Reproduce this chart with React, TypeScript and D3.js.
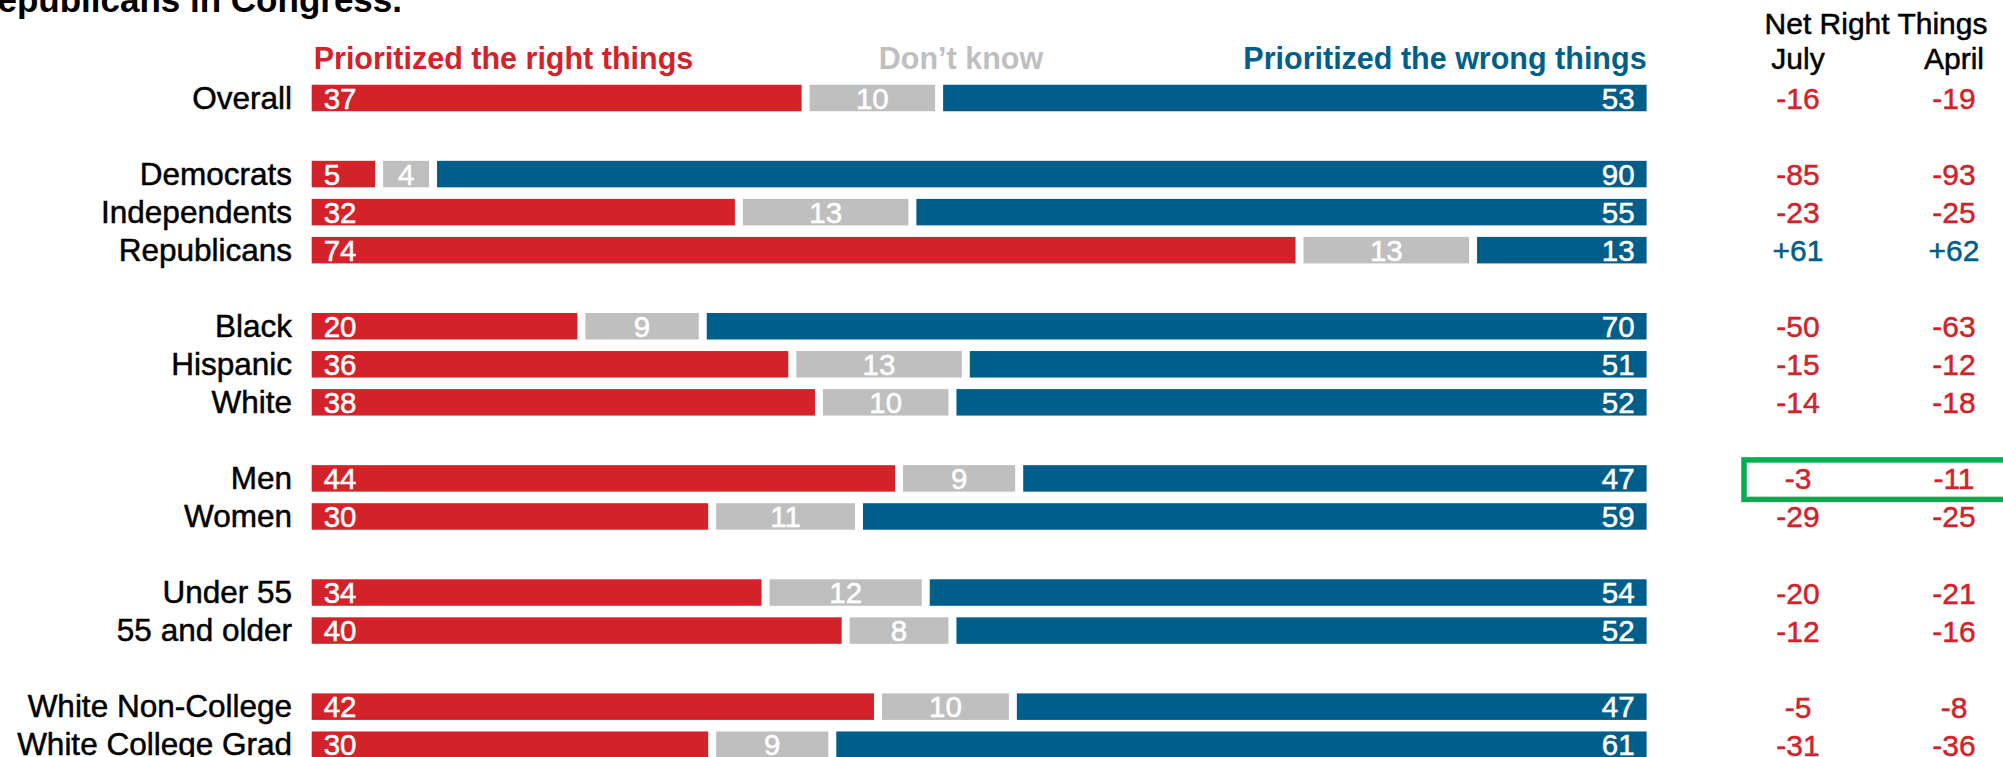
import React from "react";
import * as d3 from "d3";

const categories = ["Overall", "Democrats", "Independents", "Republicans", "Black", "Hispanic", "White", "Men", "Women", "Under 55", "55 and older", "White Non-College", "White College Grad"];
const groupIndex = [0, 1, 1, 1, 2, 2, 2, 3, 3, 4, 4, 5, 5];
const rightThings = [37, 5, 32, 74, 20, 36, 38, 44, 30, 34, 40, 42, 30];
const dontKnow = [10, 4, 13, 13, 9, 13, 10, 9, 11, 12, 8, 10, 9];
const wrongThings = [53, 90, 55, 13, 70, 51, 52, 47, 59, 54, 52, 47, 61];
const netJuly = [-16, -85, -23, 61, -50, -15, -14, -3, -29, -20, -12, -5, -31];
const netApril = [-19, -93, -25, 62, -63, -12, -18, -11, -25, -21, -16, -8, -36];
const seriesNames = ["Prioritized the right things", "Don\u2019t know", "Prioritized the wrong things"];
const highlightRow = "Men";

const W = 2003;
const H = 757;
const RED = "#D3222A";
const GRAY = "#BFBFBF";
const BLUE = "#005E8A";
const GREEN = "#00B050";
const FONT = "'Liberation Sans', Arial, sans-serif";

const barLeft = 311.7;
const barRight = 1646.6;
const gap = 8;
const barH = 26.5;

export default function App() {
  const slots = categories.map((_, i) => i + groupIndex[i]);
  const y = d3.scaleLinear().domain([0, 17]).range([98, 744.7]);
  const julyX = 1798;
  const aprilX = 1954;
  const fmt = (v: number) => (v > 0 ? "+" + v : String(v));

  return (
    <svg width={W} height={H} style={{ position: "absolute", left: 0, top: 0, background: "#fff" }} fontFamily={FONT}>
      <text x={402} y={12} textAnchor="end" fontSize={35} fontWeight="bold" fill="#000">Republicans in Congress.</text>

      <text x={barLeft + 2} y={69} fontSize={30.5} fontWeight="bold" fill={RED}>{seriesNames[0]}</text>
      <text x={961} y={69} textAnchor="middle" fontSize={30.5} fontWeight="bold" fill={GRAY}>{seriesNames[1]}</text>
      <text x={barRight} y={69} textAnchor="end" fontSize={30.5} fontWeight="bold" fill={BLUE}>{seriesNames[2]}</text>

      <g stroke="#000" strokeWidth={0.5}>
        <text x={1876} y={34} textAnchor="middle" fontSize={30} fill="#000">Net Right Things</text>
        <text x={julyX} y={69} textAnchor="middle" fontSize={30} fill="#000">July</text>
        <text x={aprilX} y={69} textAnchor="middle" fontSize={30} fill="#000">April</text>
      </g>

      {categories.map((cat, i) => {
        const cy = y(slots[i]);
        const total = rightThings[i] + dontKnow[i] + wrongThings[i];
        const x = d3.scaleLinear().domain([0, total]).range([barLeft, barRight]);
        const r0 = x(0), r1 = x(rightThings[i]) - gap / 2;
        const g0 = x(rightThings[i]) + gap / 2, g1 = x(rightThings[i] + dontKnow[i]) - gap / 2;
        const b0 = x(rightThings[i] + dontKnow[i]) + gap / 2, b1 = x(total);
        const ty = cy + 10.5;
        const cJ = netJuly[i] > 0 ? BLUE : RED;
        const cA = netApril[i] > 0 ? BLUE : RED;
        return (
          <g key={cat}>
            <text x={292} y={cy + 10.5} textAnchor="end" fontSize={31.5} fill="#000" stroke="#000" strokeWidth={0.5}>{cat}</text>
            <rect x={r0} y={cy - barH / 2} width={r1 - r0} height={barH} fill={RED} />
            <rect x={g0} y={cy - barH / 2} width={g1 - g0} height={barH} fill={GRAY} />
            <rect x={b0} y={cy - barH / 2} width={b1 - b0} height={barH} fill={BLUE} />
            <g fontSize={29.5} fill="#fff" stroke="#fff" strokeWidth={0.5}>
              <text x={r0 + 12} y={ty}>{rightThings[i]}</text>
              <text x={(g0 + g1) / 2} y={ty} textAnchor="middle">{dontKnow[i]}</text>
              <text x={b1 - 12} y={ty} textAnchor="end">{wrongThings[i]}</text>
            </g>
            <text x={julyX} y={cy + 11} textAnchor="middle" fontSize={30} fill={cJ} stroke={cJ} strokeWidth={0.5}>{fmt(netJuly[i])}</text>
            <text x={aprilX} y={cy + 11} textAnchor="middle" fontSize={30} fill={cA} stroke={cA} strokeWidth={0.5}>{fmt(netApril[i])}</text>
            {cat === highlightRow && (
              <rect x={1744} y={cy - 18.5} width={300} height={39.5} fill="none" stroke={GREEN} strokeWidth={5.5} />
            )}
          </g>
        );
      })}
    </svg>
  );
}
